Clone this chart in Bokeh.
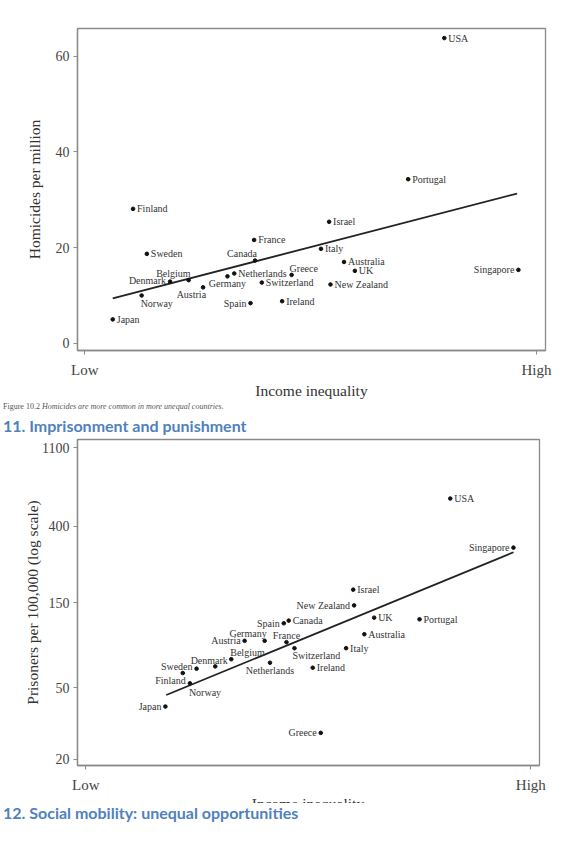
from bokeh.plotting import figure
from bokeh.models import ColumnDataSource, LabelSet, Div, FixedTicker, Range1d
from bokeh.layouts import column
from bokeh.embed import file_html
from bokeh.resources import INLINE

# Figure 10.2 - homicides
countries_h = ["Japan", "Finland", "Norway", "Sweden", "Denmark", "Belgium", "Austria",
               "Germany", "Netherlands", "Spain", "France", "Canada", "Switzerland",
               "Ireland", "Greece", "Italy", "Israel", "New Zealand", "Australia", "UK",
               "Portugal", "USA", "Singapore"]
inequality_h = [6.2, 10.7, 12.6, 13.75, 18.9, 23.0, 26.2, 31.6, 33.1, 36.7, 37.5, 37.7,
                39.2, 43.7, 45.8, 52.3, 54.1, 54.4, 57.4, 59.8, 71.6, 79.6, 96.0]
homicides = [5.0, 28.1, 10.0, 18.7, 12.9, 13.2, 11.7, 14.0, 14.6, 8.4, 21.6, 17.3,
             12.7, 8.8, 14.3, 19.75, 25.4, 12.3, 17.0, 15.15, 34.3, 63.8, 15.35]
fit_h_x = [6.2, 95.7]
fit_h_y = [9.4, 31.3]

# imprisonment
countries_p = ["Japan", "Finland", "Norway", "Sweden", "Denmark", "Belgium", "Austria",
               "Germany", "Netherlands", "Spain", "France", "Canada", "Switzerland",
               "Ireland", "Greece", "Italy", "Israel", "New Zealand", "Australia", "UK",
               "Portugal", "USA", "Singapore"]
inequality_p = [17.9, 21.8, 23.4, 24.9, 29.1, 32.7, 35.7, 40.2, 41.4, 44.5, 45.1, 45.6,
                46.9, 51.0, 52.8, 58.5, 60.1, 60.3, 62.6, 64.8, 75.0, 81.9, 96.1]
prisoners = [39.3, 60.5, 53.0, 64.0, 65.9, 72.3, 91.6, 91.6, 69.1, 114.8, 90.0, 118.8,
             83.3, 64.8, 28.0, 83.3, 177, 144.5, 99.7, 123.4, 120.8, 572, 304]
fit_p_x = [18.1, 96.1]
fit_p_y = [45.6, 286.4]

x_ticks = [0, 100]
x_tick_labels = ["Low", "High"]
h_ticks = [0, 20, 40, 60]
p_ticks = [20, 50, 150, 400, 1100]

SERIF = "Liberation Serif"
BLUE = "#4f81bd"

# where each name sits next to its dot: (align, dx, dy), dy up
spots_h = {
    "Singapore": ("right", -4, 0), "Spain": ("right", -4, 0), "Denmark": ("right", -4, 1),
    "Canada": ("right", 2, 7), "Greece": ("left", -2, 6), "Belgium": ("right", 2, 7),
    "Germany": ("center", 0, -7), "Austria": ("right", 3, -7), "Norway": ("left", -1, -8),
}
spots_p = {
    "Singapore": ("right", -4, 0), "New Zealand": ("right", -4, 0), "Spain": ("right", -4, 0),
    "Austria": ("right", -4, 0), "Sweden": ("right", -4, 2), "Japan": ("right", -4, 0),
    "Greece": ("right", -4, 0), "Germany": ("right", 2, 7), "France": ("center", 0, 7),
    "Switzerland": ("left", -2, -7), "Belgium": ("left", -1, 7), "Denmark": ("center", -6, 6),
    "Netherlands": ("center", 0, -8), "Finland": ("right", 3, -7), "Norway": ("left", -1, -9),
}


def scatter_panel(p, names, xs, ys, spots, fx, fy):
    al, dx, dy = [], [], []
    for n in names:
        a, ox, oy = spots.get(n, ("left", 4, 0))
        al.append(a)
        dx.append(ox)
        dy.append(oy)
    src = ColumnDataSource(data=dict(x=xs, y=ys, name=names, al=al, dx=dx, dy=dy))
    p.line(fx, fy, line_color="#222222", line_width=1.8)
    p.scatter("x", "y", source=src, size=3.6, color="#111111")
    p.add_layout(LabelSet(x="x", y="y", text="name", source=src, text_align="al",
                          x_offset="dx", y_offset="dy", text_baseline="middle",
                          text_font=SERIF, text_font_size="10px", text_color="#333333"))


def style(p):
    p.grid.visible = False
    p.outline_line_color = "#8a8a8a"
    p.outline_line_width = 1.3
    p.background_fill_color = "white"
    p.border_fill_color = "white"
    for ax in p.axis:
        ax.axis_line_color = "#8a8a8a"
        ax.axis_line_width = 1.3
        ax.major_tick_line_color = "#8a8a8a"
        ax.major_tick_out = 4
        ax.major_tick_in = 0
        ax.minor_tick_line_color = None
        ax.major_label_text_font = SERIF
        ax.major_label_text_color = "#444444"
        ax.axis_label_text_font = SERIF
        ax.axis_label_text_font_style = "normal"
        ax.axis_label_text_color = "#333333"
        ax.axis_label_text_font_size = "15.5px"
    p.xaxis.ticker = FixedTicker(ticks=x_ticks)
    p.xaxis.major_label_overrides = dict(zip(x_ticks, x_tick_labels))
    p.xaxis.major_label_text_font_size = "15px"
    p.xaxis.major_label_standoff = 7
    p.yaxis.major_label_text_font_size = "14px"
    p.yaxis.major_label_standoff = 4


p1 = figure(width=561, height=401, x_range=Range1d(-1.6, 102.0), y_range=Range1d(-1.5, 65.8),
            output_backend="svg", toolbar_location=None,
            min_border_left=76, min_border_right=15, min_border_top=28, min_border_bottom=47)
style(p1)
p1.yaxis.ticker = FixedTicker(ticks=h_ticks)
p1.xaxis.axis_label = "Income inequality"
p1.xaxis.axis_label_standoff = 1
p1.yaxis.axis_label = "Homicides per million"
p1.yaxis.axis_label_standoff = 10
scatter_panel(p1, countries_h, inequality_h, homicides, spots_h, fit_h_x, fit_h_y)

caption = Div(text="Figure 10.2 <i>Homicides are more common in more unequal countries.</i>",
              width=552, height=15, margin=(0, 0, 0, 3),
              styles={"font-family": SERIF, "font-size": "8px", "color": "#555555",
                      "line-height": "11px"})
head11 = Div(text="11. Imprisonment and punishment", width=552, height=20, margin=(0, 0, 0, 3),
             styles={"font-family": "Lato", "font-weight": "bold", "font-size": "16px",
                     "color": BLUE, "line-height": "20px"})

p2 = figure(width=555, height=359, x_range=Range1d(-1.85, 101.95), y_range=Range1d(18.4, 1223),
            y_axis_type="log", output_backend="svg", toolbar_location=None,
            min_border_left=77, min_border_right=16, min_border_top=3, min_border_bottom=28)
style(p2)
p2.yaxis.ticker = FixedTicker(ticks=p_ticks)
p2.yaxis.major_label_overrides = {t: str(t) for t in p_ticks}
p2.yaxis.axis_label = "Prisoners per 100,000 (log scale)"
p2.yaxis.axis_label_standoff = -2
scatter_panel(p2, countries_p, inequality_p, prisoners, spots_p, fit_p_x, fit_p_y)

# the page cuts this axis title in half, as in the source document
xlabel2 = Div(text="Income inequality", width=462, height=8, margin=(0, 0, 0, 77),
              styles={"overflow": "hidden", "text-align": "center", "font-family": SERIF,
                      "font-size": "15.5px", "line-height": "18px", "color": "#333333"})

head12 = Div(text="12. Social mobility: unequal opportunities", width=552, height=20,
             margin=(0, 0, 0, 3),
             styles={"font-family": "Lato", "font-weight": "bold", "font-size": "16px",
                     "color": BLUE, "line-height": "20px"})

page = column(p1, caption, head11, p2, xlabel2, head12, spacing=0)
open("out.html", "w").write(file_html(page, INLINE))
